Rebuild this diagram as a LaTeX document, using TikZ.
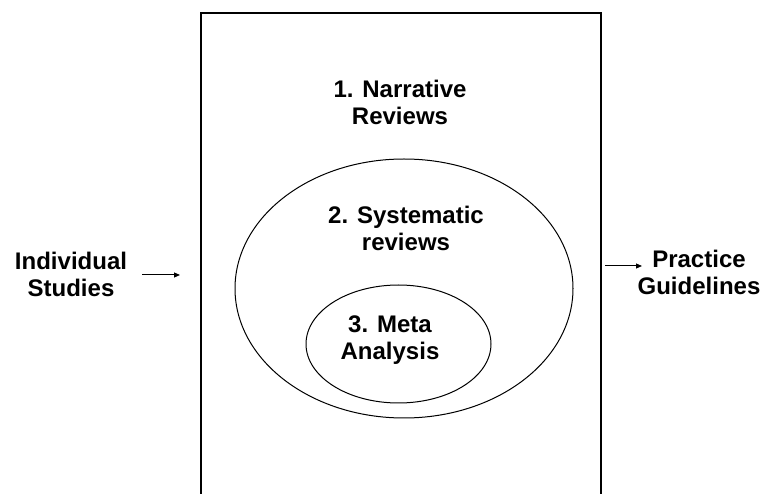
\documentclass[tikz,border=0pt]{standalone}
\usepackage{fontspec}
\setmainfont{Liberation Sans}
\usetikzlibrary{arrows.meta,shapes.geometric}
\begin{document}
\begin{tikzpicture}[x=1pt,y=-1pt,
  lbl/.style={font=\bfseries\fontsize{24}{27}\selectfont, align=center, inner sep=0pt},
  conn/.style={line width=1pt, -{Triangle[length=6pt,width=5pt]}},
  oval/.style={draw, line width=1pt}]
\useasboundingbox (0,0) rectangle (764,494);
% outer frame (open at bottom)
\draw[line width=1.5pt] (201,494) -- (201,13) -- (601,13) -- (601,494);
\node[oval, ellipse, minimum width=338pt, minimum height=259pt, inner sep=0pt] (sys) at (404,288.5) {};
\node[oval, ellipse, minimum width=185pt, minimum height=118pt, inner sep=0pt] (meta) at (398.5,344) {};
\node[lbl] (t1) at (400,102) {1. Narrative\\Reviews};
\node[lbl] (t2) at (406,228.5) {2. Systematic\\reviews};
\node[lbl] (t3) at (390,340) {3. Meta\\Analysis};
\node[lbl] (ind) at (71,274) {Individual\\Studies};
\node[lbl] (prac) at (699,272) {Practice\\Guidelines};
\coordinate (inA) at (142,275);
\coordinate (inB) at (180,275);
\coordinate (outA) at (605,266);
\coordinate (outB) at (642,266);
\draw[conn] (inA) -- (inB);
\draw[conn] (outA) -- (outB);
\end{tikzpicture}
\end{document}
